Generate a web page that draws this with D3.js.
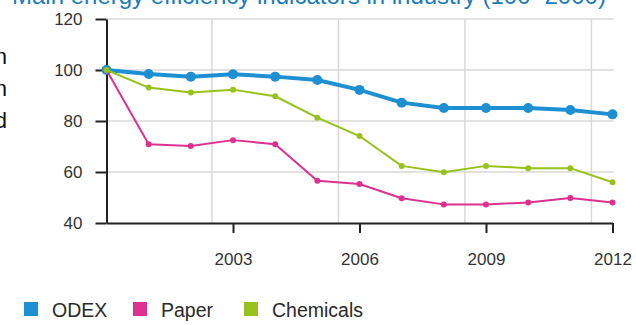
<!DOCTYPE html>
<html>
<head>
<meta charset="utf-8">
<script src="https://cdn.jsdelivr.net/npm/d3@7/dist/d3.min.js"></script>
<style>
  html, body { margin: 0; padding: 0; background: #fff; }
  svg { display: block; font-family: "Liberation Sans", Arial, sans-serif; }
</style>
</head>
<body>
<svg id="chart" width="636" height="325"></svg>
<script>
// Energy efficiency indices, base 100 = 2000
const years = [2000, 2001, 2002, 2003, 2004, 2005, 2006, 2007, 2008, 2009, 2010, 2011, 2012];
const odex      = [100, 98.4, 97.4, 98.3, 97.4, 96.1, 92.2, 87.2, 85.1, 85.1, 85.1, 84.3, 82.6];
const paper     = [100, 70.9, 70.2, 72.5, 70.9, 56.6, 55.3, 49.7, 47.3, 47.3, 48.0, 49.8, 48.0];
const chemicals = [100, 93.1, 91.2, 92.3, 89.7, 81.3, 74.1, 62.4, 59.9, 62.4, 61.5, 61.5, 56.0];

const seriesNames = ["ODEX", "Paper", "Chemicals"];
const yTicks = [40, 60, 80, 100, 120];
const xTicks = [2003, 2006, 2009, 2012];
const xGrid = [2002.5, 2005.5, 2008.5, 2011.5];
const titleText = "Main energy efficiency indicators in industry (100=2000)";
const sideText = ["n", "n", "d"];

const colors = { ODEX: "#1e8fd0", Paper: "#dd3191", Chemicals: "#97c21d" };
const seriesData = { ODEX: odex, Paper: paper, Chemicals: chemicals };

const svg = d3.select("#chart");

const x = d3.scaleLinear().domain([2000, 2012]).range([106.5, 612.5]);
const y = d3.scaleLinear().domain([40, 120]).range([223, 19]);

// title (partly above the visible area)
svg.append("text")
  .attr("x", 12).attr("y", 4)
  .attr("font-size", 24)
  .attr("fill", "#1b7cbc")
  .text(titleText);

// clipped text from the left margin
svg.append("g").selectAll("text").data(sideText).join("text")
  .attr("x", 7).attr("y", (d, i) => 64 + i * 32)
  .attr("text-anchor", "end")
  .attr("font-size", 22)
  .attr("fill", "#111")
  .text(d => d);

// grid
const grid = svg.append("g");
grid.selectAll("line.h").data(yTicks.filter(v => v > 40)).join("line")
  .attr("class", "h")
  .attr("x1", x(2000)).attr("x2", x(2012) + 1)
  .attr("y1", d => y(d)).attr("y2", d => y(d))
  .attr("stroke", "#d8d8d8").attr("stroke-width", 1.5);
grid.selectAll("line.v").data(xGrid).join("line")
  .attr("class", "v")
  .attr("x1", d => x(d)).attr("x2", d => x(d))
  .attr("y1", y(120)).attr("y2", y(40))
  .attr("stroke", "#d8d8d8").attr("stroke-width", 1.5);

// axes
const yAxis = svg.append("g")
  .attr("transform", `translate(${x(2000)},0)`)
  .call(d3.axisLeft(y).tickValues(yTicks).tickSize(11).tickPadding(13).tickSizeOuter(0));
const xAxis = svg.append("g")
  .attr("transform", `translate(0,${y(40)})`)
  .call(d3.axisBottom(x).tickValues(xTicks).tickFormat(d3.format("d")).tickSize(10).tickPadding(20).tickSizeOuter(0));
[yAxis, xAxis].forEach(a => {
  a.select(".domain").attr("stroke", "#222").attr("stroke-width", 2);
  a.selectAll(".tick line").attr("stroke", "#222").attr("stroke-width", 2);
  a.selectAll(".tick text").attr("fill", "#333").attr("font-size", 17)
    .attr("font-family", "Liberation Sans, Arial, sans-serif");
});

// series
const styles = {
  ODEX: { width: 4, r: 5 },
  Paper: { width: 2, r: 3 },
  Chemicals: { width: 2, r: 3 }
};
const line = d3.line().x((d, i) => x(years[i])).y(d => y(d));

seriesNames.forEach(name => {
  const vals = seriesData[name];
  const g = svg.append("g");
  g.append("path")
    .datum(vals)
    .attr("d", line)
    .attr("fill", "none")
    .attr("stroke", colors[name])
    .attr("stroke-width", styles[name].width)
    .attr("stroke-linejoin", "round");
  g.selectAll("circle").data(vals).join("circle")
    .attr("cx", (d, i) => x(years[i]))
    .attr("cy", d => y(d))
    .attr("r", styles[name].r)
    .attr("fill", colors[name]);
});

// legend
const legendX = [24, 133, 244];
const legend = svg.append("g");
seriesNames.forEach((name, i) => {
  legend.append("rect")
    .attr("x", legendX[i]).attr("y", 302)
    .attr("width", 14).attr("height", 14)
    .attr("fill", colors[name]);
  legend.append("text")
    .attr("x", legendX[i] + 28).attr("y", 317)
    .attr("font-size", 19.5)
    .attr("fill", "#2a2a2a")
    .text(name);
});
</script>
</body>
</html>
